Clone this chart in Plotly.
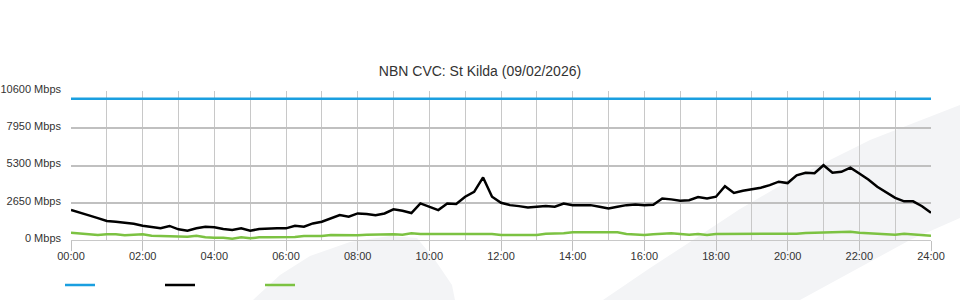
import plotly.graph_objects as go

# time in hours (15-minute samples)
hours = [i * 0.25 for i in range(97)]

capacity_mbps = [10050] * 97

download_mbps = [
    2130, 1960, 1750, 1560, 1350, 1300, 1250, 1150,
    1020, 900, 830, 1000, 760, 660, 830, 940,
    900, 780, 710, 830, 660, 780, 830, 830,
    830, 1010, 950, 1180, 1300, 1540, 1770, 1660,
    1890, 1850, 1770, 1890, 2180, 2080, 1920, 2600,
    2370, 2130, 2600, 2560, 3080, 3430, 4450, 3080,
    2650, 2480, 2410, 2320, 2370, 2410, 2370, 2600,
    2480, 2480, 2480, 2370, 2250, 2370, 2480, 2530,
    2480, 2500, 2950, 2890, 2800, 2830, 3050, 2950,
    3080, 3830, 3350, 3500, 3600, 3720, 3900, 4150,
    4050, 4600, 4780, 4750, 5320, 4780, 4850, 5150,
    4730, 4300, 3790, 3400, 3000, 2750, 2750, 2400,
    1940,
]

upload_mbps = [
    520, 473, 426, 355, 402, 402, 332, 355,
    402, 308, 284, 284, 237, 237, 308, 189,
    166, 166, 95, 189, 118, 189, 189, 189,
    189, 213, 284, 284, 284, 355, 355, 308,
    332, 379, 402, 379, 402, 379, 473, 426,
    426, 450, 450, 450, 426, 450, 473, 426,
    355, 355, 379, 402, 355, 450, 450, 473,
    544, 544, 591, 568, 591, 544, 426, 402,
    355, 402, 426, 473, 426, 379, 426, 355,
    426, 426, 402, 426, 426, 402, 426, 402,
    426, 450, 497, 520, 544, 591, 615, 591,
    520, 473, 426, 402, 379, 450, 402, 379,
    308,
]

y_ticks = [0, 2650, 5300, 7950, 10600]
y_tick_text = [f"{v} Mbps" for v in y_ticks]
x_ticks = list(range(0, 25, 2))
x_tick_text = [f"{h:02d}:00" for h in x_ticks]

BLUE = "#1a9fe0"
BLACK = "#000000"
GREEN = "#7cc242"

fig = go.Figure()
fig.add_trace(go.Scatter(x=hours, y=capacity_mbps, mode="lines", name="",
                         line=dict(color=BLUE, width=2.5)))
fig.add_trace(go.Scatter(x=hours, y=download_mbps, mode="lines", name="",
                         line=dict(color=BLACK, width=2.5)))
fig.add_trace(go.Scatter(x=hours, y=upload_mbps, mode="lines", name="",
                         line=dict(color=GREEN, width=2.5)))

L, R, T, B = 71, 29, 91, 60
W, H = 960, 300
pw, ph = W - L - R, H - T - B


def px(x):
    return (x - L) / pw


def py(y):
    return (H - B - y) / ph


def path(points):
    s = "M " + " L ".join(f"{px(a):.4f},{py(b):.4f}" for a, b in points) + " Z"
    return s


fin = [(253, 300), (280, 275), (310, 256), (350, 242), (390, 236), (417, 238),
       (435, 260), (452, 285), (455, 300)]
band = [(603, 300), (650, 268), (693, 240), (740, 209), (790, 180), (870, 140),
        (960, 105), (960, 218), (910, 240), (800, 300)]
for pts in (fin, band):
    fig.add_shape(type="path", path=path(pts), xref="paper", yref="paper",
                  fillcolor="#f3f4f6", line=dict(width=0), layer="below")

fig.update_layout(
    width=W, height=H,
    margin=dict(l=L, r=R, t=T, b=B, autoexpand=False),
    paper_bgcolor="white",
    plot_bgcolor="rgba(0,0,0,0)",
    font=dict(family="Liberation Sans, Arial, sans-serif", size=11, color="#333"),
    title=dict(text="NBN CVC: St Kilda (09/02/2026)", x=0.5, xref="container",
               y=1 - 71 / 300, yanchor="middle",
               font=dict(size=14, color="#333")),
    showlegend=True,
    legend=dict(orientation="h", x=px(60), xanchor="left", y=py(285), yanchor="middle",
                entrywidth=55, entrywidthmode="pixels", bgcolor="rgba(0,0,0,0)"),
    xaxis=dict(range=[0, 24], tickvals=x_ticks, ticktext=x_tick_text,
               showgrid=True, gridcolor="#c8c8c8", gridwidth=1,
               minor=dict(dtick=1, showgrid=True, gridcolor="#c8c8c8", gridwidth=1),
               ticks="outside", ticklen=10, tickcolor="#c0c0c0",
               ticklabelstandoff=-4,
               showline=True, linecolor="#c8c8c8", linewidth=1,
               zeroline=False, fixedrange=True, automargin=False),
    yaxis=dict(range=[0, 10600], tickvals=y_ticks, ticktext=y_tick_text,
               showgrid=True, gridcolor="#c0c0c0", gridwidth=2,
               ticks="", ticklabelstandoff=9, ticklabelshift=-2,
               zeroline=False, showline=False, fixedrange=True, automargin=False),
)

fig.write_html("out.html")
